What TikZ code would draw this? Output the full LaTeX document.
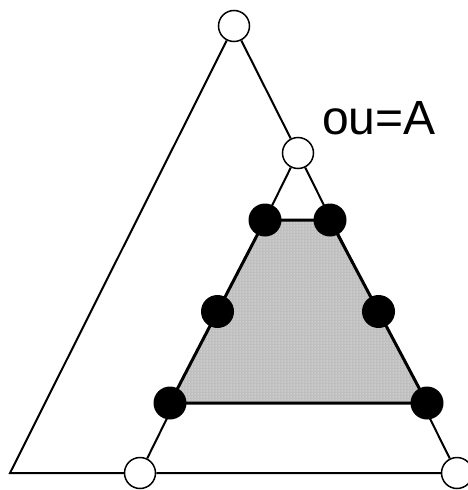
\documentclass[tikz,border=0pt]{standalone}
\usepackage{fontspec}
\setmainfont{Liberation Sans}
\usetikzlibrary{patterns,calc}
\tikzset{
  open/.style = {circle, draw, fill=white, line width=1.5pt, minimum size=31pt, inner sep=0pt},
  full/.style = {circle, fill=black, minimum size=33pt, inner sep=0pt},
  edge/.style = {line width=2pt}
}
\begin{document}
\begin{tikzpicture}[x=1pt,y=-1pt]
  \useasboundingbox (0,0) rectangle (467,490);
  % outer and inner triangle
  \coordinate (corner) at (10,473);
  \node[open] (top) at (234,26) {};
  \node[open] (mid) at (298,153) {};
  \node[open] (low) at (140,473) {};
  \node[open] (right) at (457,473) {};
  \draw[edge] (top) -- (mid) -- (right) -- (low) -- (corner) -- (top);
  \draw[edge] (mid) -- (low);
  % shaded region
  \coordinate (tl) at (265,220);
  \coordinate (tr) at (330,220);
  \coordinate (bl) at (170,403);
  \coordinate (br) at (427,403);
  \fill[black!25] (tl) -- (tr) -- (br) -- (bl) -- cycle;
  \fill[pattern=dots, pattern color=white] (tl) -- (tr) -- (br) -- (bl) -- cycle;
  \draw[line width=3pt, line join=round] (tl) -- (tr) -- (br) -- (bl) -- cycle;
  \foreach \p in {tl,tr,bl,br}
    \node[full] (d\p) at (\p) {};
  \node[full] (dml) at ($(tl)!0.5!(bl)$) {};
  \node[full] (dmr) at ($(tr)!0.5!(br)$) {};
  \node[anchor=base west, inner sep=0pt, font=\fontsize{48}{50}\selectfont] (lab) at (322,134) {ou=A};
\end{tikzpicture}
\end{document}
